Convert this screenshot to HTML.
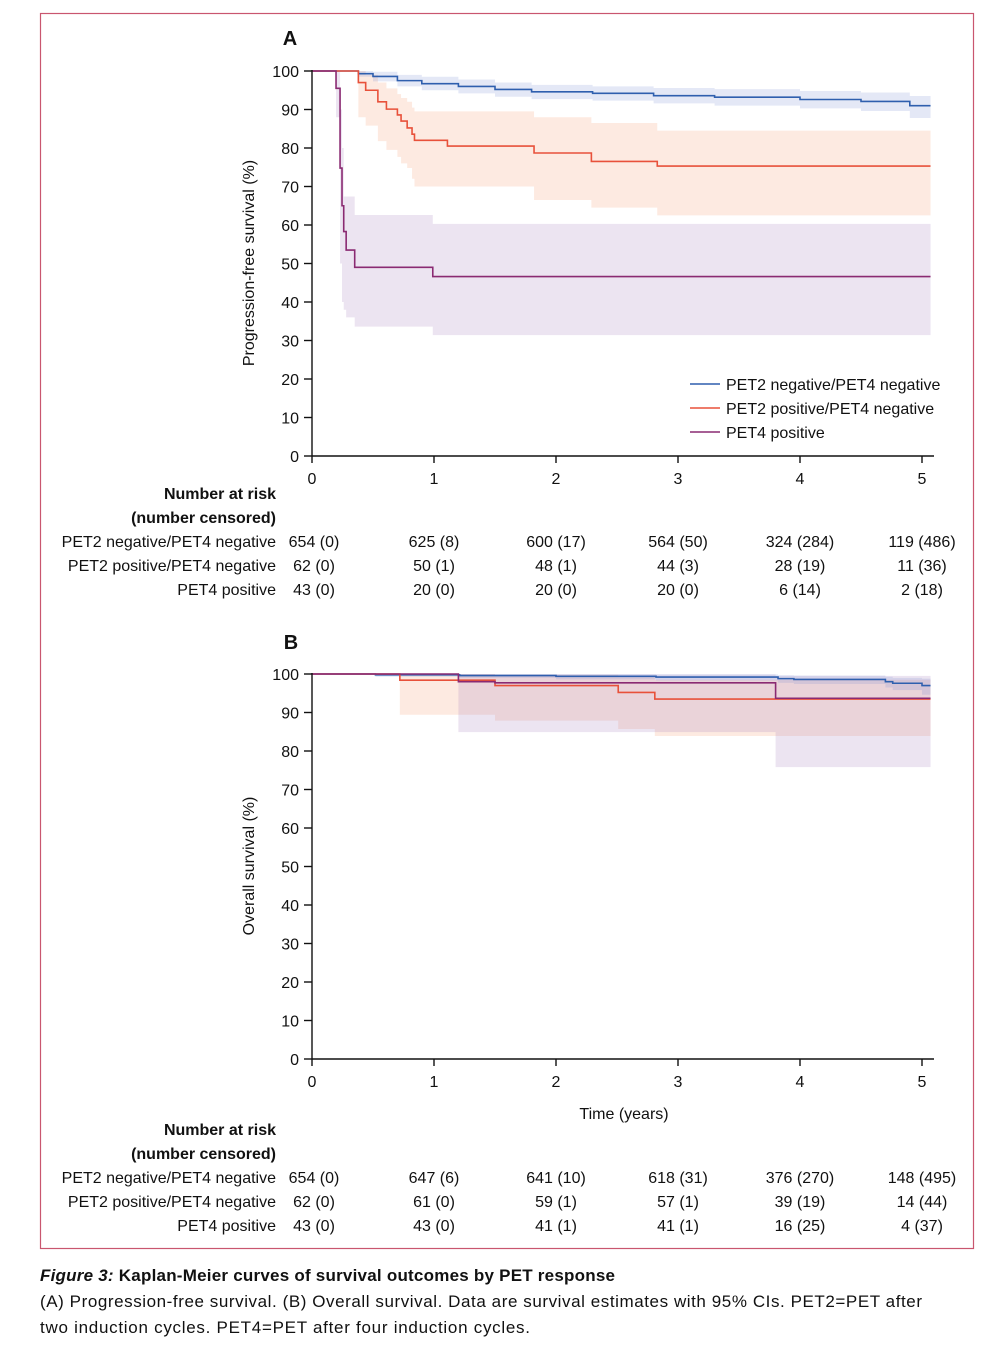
<!DOCTYPE html>
<html><head><meta charset="utf-8"><style>
html,body{margin:0;padding:0;background:#fff}
svg{display:block;font-family:"Liberation Sans",sans-serif;fill:#111}
text{font-size:16px}
</style></head><body>
<svg id="svg" width="999" height="1350" viewBox="0 0 999 1350" xmlns="http://www.w3.org/2000/svg">
<rect x="40.5" y="13.5" width="933" height="1235" fill="none" stroke="#c9566f" stroke-width="1.2"/>
<g id="bands"></g><g id="lines"></g><g id="axes" stroke="#111" stroke-width="1.4"></g><g id="labels"></g>
<text x="290" y="45" text-anchor="middle" font-weight="bold" style="font-size:20px">A</text>
<text x="291" y="649" text-anchor="middle" font-weight="bold" style="font-size:20px">B</text>
<text transform="translate(254,263) rotate(-90)" text-anchor="middle">Progression-free survival (%)</text>
<text transform="translate(254,866) rotate(-90)" text-anchor="middle">Overall survival (%)</text>
<text x="624" y="1119" text-anchor="middle">Time (years)</text>
<g>
<line x1="690" y1="384" x2="720" y2="384" stroke="#2f5fae" stroke-width="1.6"/>
<text x="726" y="390">PET2 negative/PET4 negative</text>
<line x1="690" y1="408" x2="720" y2="408" stroke="#e8513a" stroke-width="1.6"/>
<text x="726" y="414">PET2 positive/PET4 negative</text>
<line x1="690" y1="432" x2="720" y2="432" stroke="#8a2a72" stroke-width="1.6"/>
<text x="726" y="438">PET4 positive</text>
</g>
<g style="font-size:17px">
<text x="40" y="1281" font-weight="bold" style="font-size:17px" textLength="575" lengthAdjust="spacing"><tspan font-style="italic">Figure 3:</tspan> Kaplan-Meier curves of survival outcomes by PET response</text>
<text x="40" y="1307" style="font-size:17px" textLength="882" lengthAdjust="spacing">(A) Progression-free survival. (B) Overall survival. Data are survival estimates with 95% CIs. PET2=PET after</text>
<text x="40" y="1333" style="font-size:17px" textLength="490" lengthAdjust="spacing">two induction cycles. PET4=PET after four induction cycles.</text>
</g>
</svg>
<script>
const NS="http://www.w3.org/2000/svg";
const xTicks=[0,1,2,3,4,5];
const yTicks=[0,10,20,30,40,50,60,70,80,90,100];
const groupNames=["PET2 negative/PET4 negative","PET2 positive/PET4 negative","PET4 positive"];
// Panel A (PFS)
const aBlueT=[0,0.38,0.5,0.7,0.9,1.2,1.5,1.8,2.3,2.8,3.3,4.0,4.5,4.9,5.07];
const aBlueV=[100,99.3,98.6,97.5,96.7,96.0,95.2,94.6,94.2,93.6,93.2,92.6,92.1,91.0,91.0];
const aBlueUp=[100,100,99.8,99,98.5,97.8,97.0,96.4,96.0,95.6,95.3,94.8,94.4,93.5,93.5];
const aBlueLo=[100,98.5,97.3,96.0,95.0,94.2,93.3,92.7,92.3,91.6,91.0,90.3,89.6,87.8,87.8];
const aRedT=[0,0.38,0.44,0.54,0.61,0.70,0.73,0.78,0.82,0.84,1.11,1.82,2.29,2.83,5.07];
const aRedV=[100,97.0,95.0,92.0,90.1,88.6,87.0,85.2,83.6,82.0,80.5,78.7,76.5,75.3,75.3];
const aRedUp=[100,100,99,97,95.5,94,93,92,90.5,89.5,89.5,88,86.5,84.5,84.5];
const aRedLo=[100,88,85.8,81.8,79.5,77.7,76,74.8,72,70,70,66.5,64.5,62.5,62.5];
const aPurT=[0,0.197,0.23,0.246,0.26,0.28,0.35,0.99,5.07];
const aPurV=[100,95.5,74.8,65.0,58.3,53.5,49.0,46.6,46.6];
const aPurUp=[100,100,90,80,67.4,67.4,62.6,60.3,60.3];
const aPurLo=[100,88,50,40,38,36,33.6,31.4,31.4];
// Panel B (OS)
const bBlueT=[0,0.52,1.21,2.0,2.82,3.82,3.95,4.7,4.76,5.0,5.07];
const bBlueV=[100,99.8,99.6,99.4,99.2,98.8,98.6,98.0,97.6,97.0,97.0];
const bBlueUp=[100,100,100,100,99.9,99.7,99.6,99.3,99.0,98.8,98.8];
const bBlueLo=[100,99.3,99.0,98.6,98.3,97.7,97.4,96.5,95.8,94.6,94.6];
const bRedT=[0,0.72,1.5,2.51,2.81,5.07];
const bRedV=[100,98.4,97.0,95.2,93.5,93.5];
const bRedUp=[100,100,99.8,99.2,98.5,98.5];
const bRedLo=[100,89.4,87.9,85.7,83.9,83.9];
const bPurT=[0,1.2,1.5,3.8,5.07];
const bPurV=[100,98.0,97.7,93.7,93.7];
const bPurUp=[100,100,99.9,99.5,99.5];
const bPurLo=[100,84.9,84.9,75.8,75.8];
// Number at risk
const riskA=[["654 (0)","625 (8)","600 (17)","564 (50)","324 (284)","119 (486)"],["62 (0)","50 (1)","48 (1)","44 (3)","28 (19)","11 (36)"],["43 (0)","20 (0)","20 (0)","20 (0)","6 (14)","2 (18)"]];
const riskB=[["654 (0)","647 (6)","641 (10)","618 (31)","376 (270)","148 (495)"],["62 (0)","61 (0)","59 (1)","57 (1)","39 (19)","14 (44)"],["43 (0)","43 (0)","41 (1)","41 (1)","16 (25)","4 (37)"]];

const X=t=>312+122*t;
const mkY=base=>v=>base-3.85*v;
const YA=mkY(456),YB=mkY(1059);
function stepD(T,V,Y){let d="M"+X(T[0])+","+Y(V[0]);for(let i=1;i<T.length;i++){d+=" H"+X(T[i])+" V"+Y(V[i]);}return d;}
function bandD(T,U,L,Y){const n=T.length-1;let d="M"+X(T[0])+","+Y(U[0]);for(let i=1;i<=n;i++){d+=" H"+X(T[i])+" V"+Y(U[i]);}
 d+=" V"+Y(L[n]);
 for(let i=n;i>=1;i--){d+=" V"+Y(L[i-1])+" H"+X(T[i-1]);}d+=" Z";return d;}
const bands=document.getElementById("bands"),lines=document.getElementById("lines"),axes=document.getElementById("axes"),labels=document.getElementById("labels");
function band(T,U,L,Y,fill,name){const p=document.createElementNS(NS,"path");p.setAttribute("d",bandD(T,U,L,Y));p.setAttribute("fill",fill);


bands.appendChild(p);}
function line(T,V,Y,col,name){const p=document.createElementNS(NS,"path");p.setAttribute("d",stepD(T,V,Y));p.setAttribute("fill","none");p.setAttribute("stroke",col);p.setAttribute("stroke-width","1.6");


lines.appendChild(p);}
band(aRedT,aRedUp,aRedLo,YA,"rgba(244,160,120,0.22)","pfs-ci-pet2pos");
band(aPurT,aPurUp,aPurLo,YA,"rgba(160,120,185,0.2)","pfs-ci-pet4pos");
band(aBlueT,aBlueUp,aBlueLo,YA,"rgba(120,140,210,0.2)","pfs-ci-pet2neg");
band(bRedT,bRedUp,bRedLo,YB,"rgba(244,160,120,0.22)","os-ci-pet2pos");
band(bPurT,bPurUp,bPurLo,YB,"rgba(160,120,185,0.2)","os-ci-pet4pos");
band(bBlueT,bBlueUp,bBlueLo,YB,"rgba(120,140,210,0.2)","os-ci-pet2neg");
line(aBlueT,aBlueV,YA,"#2f5fae","pfs-line-pet2neg");
line(aRedT,aRedV,YA,"#e8513a","pfs-line-pet2pos");
line(aPurT,aPurV,YA,"#8a2a72","pfs-line-pet4pos");
line(bBlueT,bBlueV,YB,"#2f5fae","os-line-pet2neg");
line(bRedT,bRedV,YB,"#e8513a","os-line-pet2pos");
line(bPurT,bPurV,YB,"#8a2a72","os-line-pet4pos");
function txt(x,y,s,anchor,name,bold){const t=document.createElementNS(NS,"text");t.setAttribute("x",x);t.setAttribute("y",y);t.setAttribute("text-anchor",anchor);if(bold)t.setAttribute("font-weight","bold");t.textContent=s;


labels.appendChild(t);}
function seg(x1,y1,x2,y2){const l=document.createElementNS(NS,"line");l.setAttribute("x1",x1);l.setAttribute("y1",y1);l.setAttribute("x2",x2);l.setAttribute("y2",y2);axes.appendChild(l);}
function panel(Y,p,risk,headY){
 seg(312,Y(100)-1,312,Y(0));seg(312,Y(0),934,Y(0));
 yTicks.forEach(v=>{seg(304,Y(v),312,Y(v));txt(299,Y(v)+6,String(v),"end",p+"-y-tick-label");});
 xTicks.forEach(t=>{seg(X(t),Y(0),X(t),Y(0)+7);txt(X(t),Y(0)+28,String(t),"middle",p+"-x-tick-label");});
 txt(276,headY,"Number at risk","end",p+"-risk-header",true);
 txt(276,headY+24,"(number censored)","end",p+"-risk-subheader",true);
 groupNames.forEach((g,i)=>{const yy=headY+48+24*i;txt(276,yy,g,"end",p+"-risk-row-label");
  risk[i].forEach((s,j)=>txt(X(xTicks[j])+(j==0?2:0),yy,s,"middle",p+"-risk-value"));});
}
panel(YA,"pfs",riskA,499);
panel(YB,"os",riskB,1135);
</script>
</body></html>
